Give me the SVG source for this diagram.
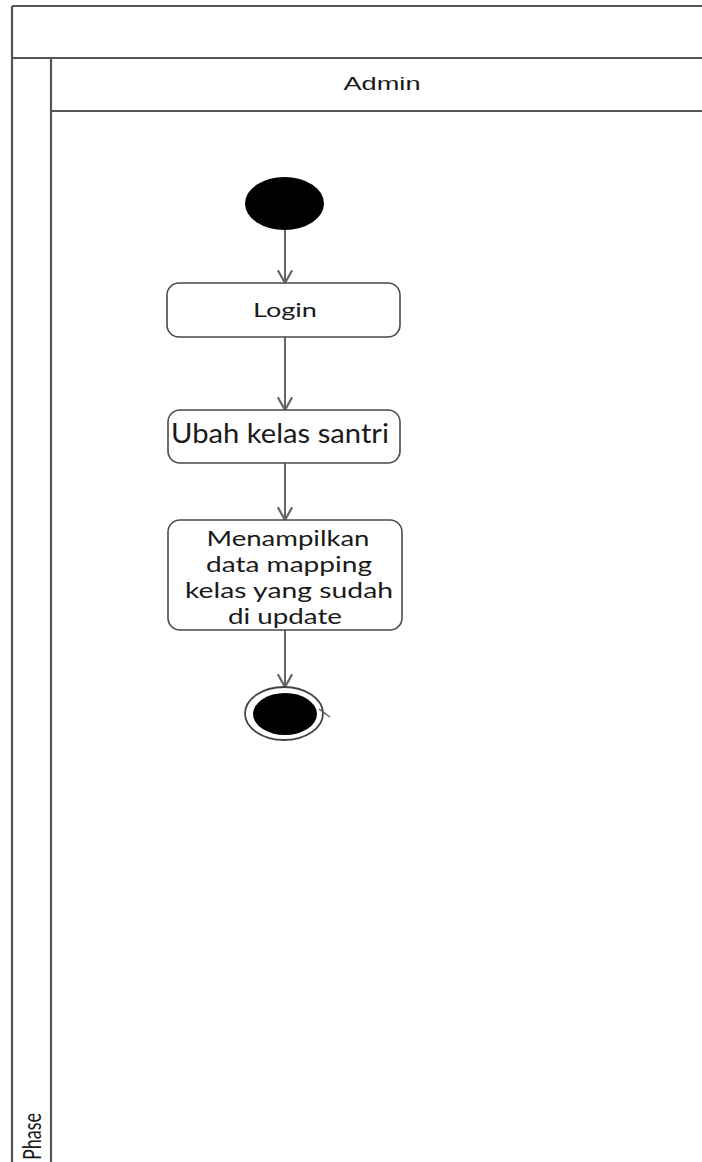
<svg xmlns="http://www.w3.org/2000/svg" width="702" height="1162" viewBox="0 0 702 1162">
  <defs>
    <style>
      .lane { stroke: #555; stroke-width: 2.2; fill: none; }
      .flow { stroke: #666; stroke-width: 2; fill: none; }
      .act { fill: #fff; stroke: #4a4a4a; stroke-width: 1.6; }
      .lbl { font-family: Lato, "Open Sans", sans-serif; fill: #1a1a1a; text-anchor: middle; }
      .side { font-family: Lato, "Open Sans", sans-serif; fill: #1a1a1a; text-anchor: start; }
      .hdr { font-family: "Liberation Sans", Arial, sans-serif; fill: #1a1a1a; text-anchor: middle; }
    </style>
    <marker id="open" viewBox="0 0 10 10" refX="9" refY="5" markerWidth="16" markerHeight="16" markerUnits="userSpaceOnUse" orient="auto">
      <path d="M1 0.5 L9 5 L1 9.5" fill="none" stroke="#666" stroke-width="1.4"/>
    </marker>
  </defs>
  <rect width="702" height="1162" fill="#fff"/>

  <!-- swimlane frame -->
  <g id="pool">
    <line class="lane" x1="12" y1="6" x2="702" y2="6"/>
    <line class="lane" x1="12" y1="6" x2="12" y2="1162"/>
    <line class="lane" x1="12" y1="58" x2="702" y2="58"/>
    <line class="lane" x1="51" y1="58" x2="51" y2="1162"/>
    <line class="lane" x1="51" y1="111" x2="702" y2="111"/>
    <text class="hdr" x="382" y="90" font-size="18" textLength="77" lengthAdjust="spacingAndGlyphs">Admin</text>
    <text class="side" transform="translate(41 1160) rotate(-90)" x="0" y="0" font-size="25" textLength="47" lengthAdjust="spacingAndGlyphs">Phase</text>
  </g>

  <!-- transitions -->
  <g id="connectors">
    <line class="flow" x1="285" y1="230" x2="285" y2="283" marker-end="url(#open)"/>
    <line class="flow" x1="285" y1="337" x2="285" y2="410" marker-end="url(#open)"/>
    <line class="flow" x1="285" y1="463" x2="285" y2="520" marker-end="url(#open)"/>
    <line class="flow" x1="285" y1="630" x2="285" y2="687" marker-end="url(#open)"/>
  </g>

  <g id="start">
    <ellipse cx="284.5" cy="203.5" rx="39.5" ry="26.5" fill="#000"/>
  </g>

  <g id="login">
    <rect class="act" x="167" y="283" width="233" height="54" rx="12"/>
    <text class="lbl" x="285" y="317" font-size="20" textLength="64" lengthAdjust="spacingAndGlyphs">Login</text>
  </g>

  <g id="ubah-kelas">
    <rect class="act" x="168" y="410" width="232" height="53" rx="12"/>
    <text class="lbl" x="280" y="443" font-size="27" textLength="218" lengthAdjust="spacingAndGlyphs">Ubah kelas santri</text>
  </g>

  <g id="tampil-mapping">
    <rect class="act" x="168" y="520" width="234" height="110" rx="12"/>
    <text class="lbl" x="288" y="546" font-size="21.5" textLength="163" lengthAdjust="spacingAndGlyphs">Menampilkan</text>
    <text class="lbl" x="289" y="572" font-size="21.5" textLength="166" lengthAdjust="spacingAndGlyphs">data mapping</text>
    <text class="lbl" x="289" y="598" font-size="21.5" textLength="208" lengthAdjust="spacingAndGlyphs">kelas yang sudah</text>
    <text class="lbl" x="285" y="624" font-size="21.5" textLength="114" lengthAdjust="spacingAndGlyphs">di update</text>
  </g>

  <g id="end">
    <ellipse cx="284" cy="713.5" rx="39" ry="26.5" fill="#fff" stroke="#444" stroke-width="1.8"/>
    <ellipse cx="285" cy="714" rx="32" ry="21" fill="#000"/>
    <path d="M319 709 L330 717" fill="none" stroke="#555" stroke-width="1.3"/>
  </g>
</svg>
